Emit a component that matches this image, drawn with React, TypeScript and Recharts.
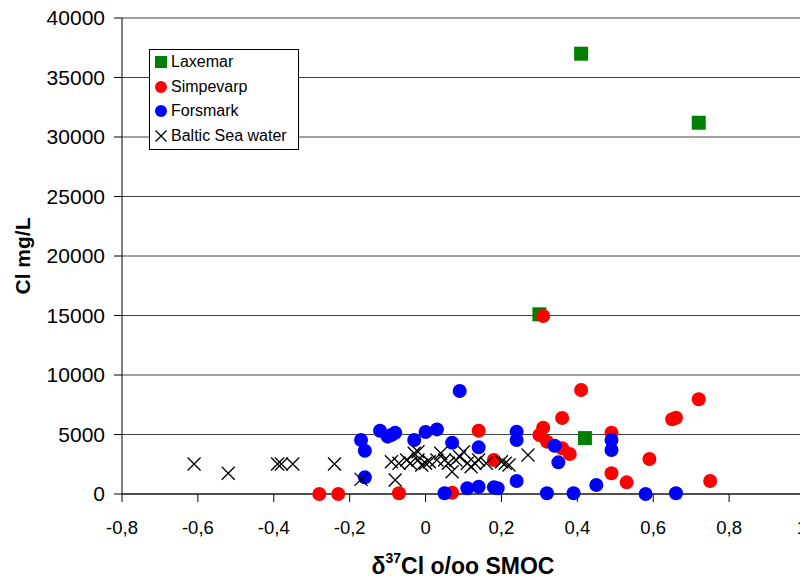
import React from 'react';
import {
  ScatterChart,
  Scatter,
  XAxis,
  YAxis,
  CartesianGrid,
  Legend,
  Label,
} from 'recharts';

// δ37Cl (o/oo SMOC) against chloride (mg/L)
const laxemarD37 = [0.41, 0.72, 0.3, 0.42];
const laxemarCl = [37000, 31200, 15100, 4700];

const simpevarpD37 = [
  0.31, 0.41, 0.72, 0.65, 0.66, 0.36, 0.31, 0.3, 0.32, 0.36, 0.38,
  0.49, 0.49, 0.53, 0.59, 0.75, 0.14, 0.18, 0.07, -0.07, -0.23, -0.28,
];
const simpevarpCl = [
  14960, 8740, 7960, 6280, 6410, 6390, 5570, 4960, 4400, 3840, 3360,
  5150, 1740, 980, 2940, 1090, 5320, 2860, 100, 60, 0, 0,
];

const forsmarkD37 = [
  0.09, -0.12, -0.1, -0.09, -0.08, -0.03, 0.0, 0.03, 0.07, 0.14, -0.17,
  -0.16, -0.16, 0.05, 0.11, 0.14, 0.18, 0.19, 0.24, 0.24, 0.24, 0.34,
  0.35, 0.49, 0.49, 0.32, 0.39, 0.45, 0.58, 0.66,
];
const forsmarkCl = [
  8650, 5320, 4820, 4960, 5150, 4540, 5210, 5430, 4310, 3920, 4540,
  3640, 1400, 60, 480, 610, 560, 480, 1090, 5240, 4540, 4060,
  2660, 4540, 3700, 60, 60, 760, 0, 60,
];

const balticD37 = [
  -0.61, -0.52, -0.39, -0.38, -0.35, -0.24, -0.17, -0.08, -0.09, -0.07,
  -0.05, -0.04, -0.03, -0.02, -0.01, 0.0, 0.01, 0.03, 0.04, 0.05, 0.06,
  0.07, 0.08, 0.09, 0.1, 0.11, 0.12, 0.13, 0.14, 0.16, 0.2, 0.21, 0.22,
  0.27, -0.02,
];
const balticCl = [
  2520, 1740, 2520, 2520, 2520, 2520, 1230, 1180, 2710, 2580,
  2860, 2580, 3420, 2860, 2440, 2580, 2710, 2860, 3420, 2860, 2580,
  1870, 2860, 3130, 3550, 2580, 2290, 2580, 2860, 2580, 2710, 2580, 2440,
  3280, 3550,
];

const xTicks = [-0.8, -0.6, -0.4, -0.2, 0, 0.2, 0.4, 0.6, 0.8, 1];
const xTickLabels = ['-0,8', '-0,6', '-0,4', '-0,2', '0', '0,2', '0,4', '0,6', '0,8', '1'];
const yTicks = [0, 5000, 10000, 15000, 20000, 25000, 30000, 35000, 40000];

const toPoints = (xs: number[], ys: number[]) => xs.map((x, i) => ({ x, y: ys[i] }));

const FONT = '"Liberation Sans", Arial, sans-serif';
const CHART_W = 800;

const SquareMark = (props: any) => (
  <rect x={props.cx - 7} y={props.cy - 7} width={14} height={14} fill="#008000" />
);

const RedDot = (props: any) => <circle cx={props.cx} cy={props.cy} r={7} fill="#ff0000" />;

const BlueDot = (props: any) => <circle cx={props.cx} cy={props.cy} r={7} fill="#0000ff" />;

const CrossMark = (props: any) => {
  const { cx, cy } = props;
  const h = 6.5;
  return (
    <path
      d={`M${cx - h},${cy - h}L${cx + h},${cy + h}M${cx + h},${cy - h}L${cx - h},${cy + h}`}
      stroke="#000"
      strokeWidth={1.3}
      fill="none"
    />
  );
};

// x tick label, kept inside the svg at the right edge
const XTick = (props: any) => {
  const { x, y, payload } = props;
  const label = xTickLabels[xTicks.indexOf(payload.value)];
  return (
    <text
      x={Math.min(x, CHART_W - 6)}
      y={y}
      dy="0.71em"
      textAnchor="middle"
      fontFamily={FONT}
      fontSize={18.5}
      fill="#000"
    >
      {label}
    </text>
  );
};

const legendItems = [
  { name: 'Laxemar', kind: 'square', color: '#008000' },
  { name: 'Simpevarp', kind: 'dot', color: '#ff0000' },
  { name: 'Forsmark', kind: 'dot', color: '#0000ff' },
  { name: 'Baltic Sea water', kind: 'cross', color: '#000' },
];

const LegendBox = () => (
  <div
    style={{
      border: '1px solid #000',
      background: '#fff',
      width: 148,
      padding: '0 0 1px 0',
      fontFamily: FONT,
      fontSize: 16,
      color: '#000',
    }}
  >
    {legendItems.map((item) => (
      <div key={item.name} style={{ display: 'flex', alignItems: 'center', height: 24.5, paddingLeft: 4 }}>
        <svg width={14} height={14} style={{ marginRight: 3 }}>
          {item.kind === 'square' && <rect x={1} y={1} width={12} height={12} fill={item.color} />}
          {item.kind === 'dot' && <circle cx={7} cy={7} r={6} fill={item.color} />}
          {item.kind === 'cross' && (
            <path d="M1.5,1.5L12.5,12.5M12.5,1.5L1.5,12.5" stroke="#000" strokeWidth={1.3} />
          )}
        </svg>
        <span>{item.name}</span>
      </div>
    ))}
  </div>
);

export default function App() {
  return (
    <div style={{ marginTop: -8 }}>
      <ScatterChart
        width={CHART_W}
        height={580}
        margin={{ top: 18, right: 3, bottom: 26, left: 0 }}
        style={{ fontFamily: FONT }}
      >
        <CartesianGrid vertical={false} stroke="#404040" />
        <XAxis
          type="number"
          dataKey="x"
          domain={[-0.8, 1]}
          ticks={xTicks}
          interval={0}
          tick={<XTick />}
          tickSize={8}
          tickMargin={19}
          axisLine={{ stroke: '#000' }}
          tickLine={{ stroke: '#000' }}
          height={60}
        >
          <Label
            content={() => (
              <text x={455} y={566} textAnchor="middle" dominantBaseline="central" fontFamily={FONT} fontWeight="bold" fontSize={23} fill="#000">
                δ<tspan fontSize={14} dy={-8}>37</tspan>
                <tspan dy={8}>Cl o/oo SMOC</tspan>
              </text>
            )}
          />
        </XAxis>
        <YAxis
          type="number"
          dataKey="y"
          domain={[0, 40000]}
          ticks={yTicks}
          interval={0}
          tick={{ fontSize: 21, fill: '#000', fontFamily: FONT }}
          tickSize={8}
          tickMargin={9}
          axisLine={{ stroke: '#000' }}
          tickLine={{ stroke: '#000' }}
          width={114}
        >
          <Label
            content={() => (
              <text x={14} y={256} transform="rotate(-90 14 256)" textAnchor="middle" dominantBaseline="central" fontFamily={FONT} fontWeight="bold" fontSize={21} fill="#000">
                Cl mg/L
              </text>
            )}
          />
        </YAxis>
        <Legend
          layout="horizontal"
          verticalAlign="middle"
          align="center"
          content={() => <LegendBox />}
          wrapperStyle={{ left: 141, top: 49, width: 150, height: 'auto' }}
        />
        <Scatter name="Laxemar" data={toPoints(laxemarD37, laxemarCl)} shape={SquareMark} isAnimationActive={false} />
        <Scatter name="Simpevarp" data={toPoints(simpevarpD37, simpevarpCl)} shape={RedDot} isAnimationActive={false} />
        <Scatter name="Forsmark" data={toPoints(forsmarkD37, forsmarkCl)} shape={BlueDot} isAnimationActive={false} />
        <Scatter name="Baltic Sea water" data={toPoints(balticD37, balticCl)} shape={CrossMark} isAnimationActive={false} />
      </ScatterChart>
    </div>
  );
}
